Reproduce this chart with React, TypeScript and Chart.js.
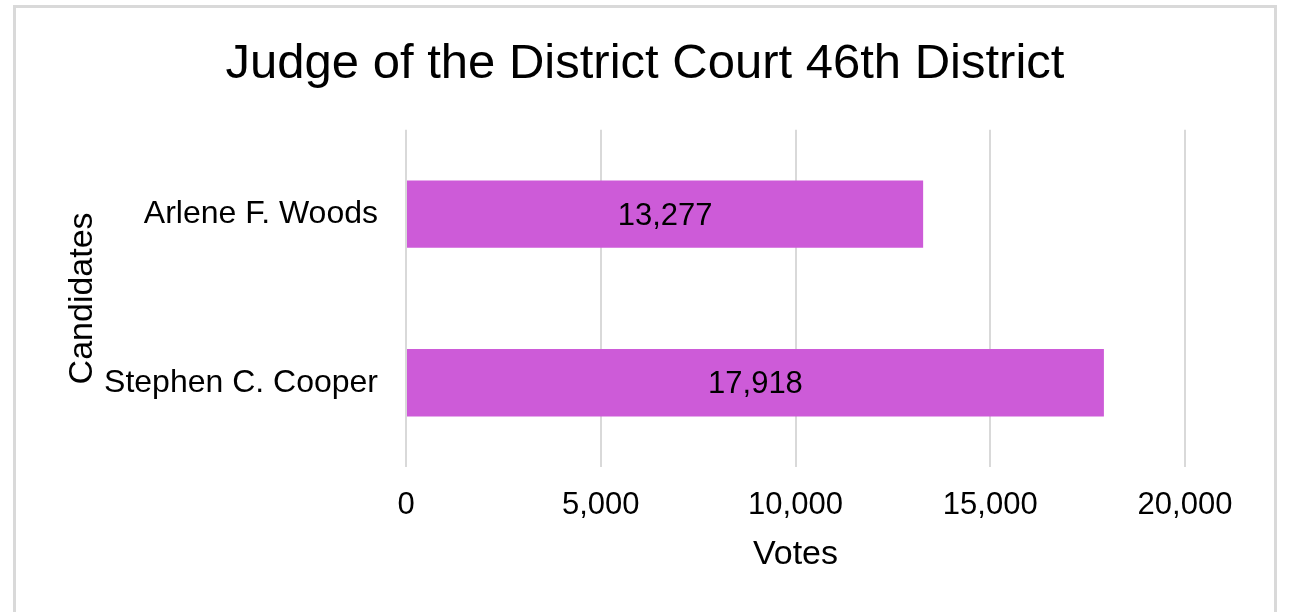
import React, { useEffect, useRef } from "react";
import { Chart, registerables } from "chart.js";

Chart.register(...registerables);

const titleText = "Judge of the District Court 46th District";
const candidates = ["Arlene F. Woods", "Stephen C. Cooper"];
const votes = [13277, 17918];
const xAxisTitle = "Votes";
const yAxisTitle = "Candidates";
const xMax = 20000;
const xStep = 5000;

const FONT = "'Liberation Sans', Arial, sans-serif";

const valueLabels = {
  id: "valueLabels",
  afterDatasetsDraw(chart: any) {
    const ctx = chart.ctx;
    const meta = chart.getDatasetMeta(0);
    ctx.save();
    ctx.font = `31px ${FONT}`;
    ctx.fillStyle = "#000";
    ctx.textAlign = "center";
    ctx.textBaseline = "middle";
    meta.data.forEach((bar: any, i: number) => {
      const v = chart.data.datasets[0].data[i] as number;
      const x = (bar.x + bar.base) / 2;
      ctx.fillText(v.toLocaleString("en-US"), x, bar.y + 2);
    });
    ctx.restore();
  },
};

export default function App() {
  const ref = useRef<HTMLCanvasElement>(null);
  useEffect(() => {
    if (!ref.current) return;
    const chart = new Chart(ref.current, {
      type: "bar",
      data: {
        labels: candidates,
        datasets: [
          {
            data: votes,
            backgroundColor: "#cd5bd8",
            borderWidth: 0,
            categoryPercentage: 1,
            barPercentage: 0.4,
          },
        ],
      },
      plugins: [valueLabels],
      options: {
        indexAxis: "y",
        responsive: false,
        animation: false,
        layout: { padding: 0 },
        plugins: {
          legend: { display: false },
          tooltip: { enabled: false },
          title: {
            display: true,
            text: titleText,
            color: "#000",
            font: { family: FONT, size: 49, weight: "normal" },
            padding: { top: 27, bottom: 36 },
          },
        },
        scales: {
          x: {
            min: 0,
            max: xMax,
            ticks: {
              stepSize: xStep,
              color: "#000",
              padding: 20,
              font: { family: FONT, size: 31 },
              callback: (v: any) => Number(v).toLocaleString("en-US"),
            },
            grid: { color: "#d9d9d9", lineWidth: 2, drawTicks: false },
            border: { display: false },
            title: {
              display: true,
              text: xAxisTitle,
              color: "#000",
              font: { family: FONT, size: 34 },
              padding: { top: 0, bottom: 37 },
            },
            afterFit: (axis: any) => {
              axis.height = 145;
            },
          },
          y: {
            ticks: {
              color: "#000",
              padding: 28,
              font: { family: FONT, size: 32 },
            },
            grid: { display: false, drawTicks: false },
            border: { display: false },
            title: {
              display: true,
              text: yAxisTitle,
              color: "#000",
              font: { family: FONT, size: 34 },
              padding: { top: 46, bottom: 0 },
            },
            afterFit: (axis: any) => {
              axis.width = 390;
            },
          },
          spacer: {
            type: "linear",
            position: "right",
            display: true,
            ticks: { display: false },
            grid: { display: false, drawTicks: false },
            border: { display: false },
            afterFit: (axis: any) => {
              axis.width = 89;
            },
          },
        },
      },
    } as any);
    return () => chart.destroy();
  }, []);

  return (
    <div
      style={{
        position: "absolute",
        left: 13,
        top: 5,
        width: 1258,
        height: 604,
        borderTop: "3px solid #d9d9d9",
        borderLeft: "3px solid #d9d9d9",
        borderRight: "3px solid #d9d9d9",
        background: "#fff",
        overflow: "hidden",
      }}
    >
      <canvas ref={ref} width={1258} height={604} style={{ display: "block" }} />
    </div>
  );
}
